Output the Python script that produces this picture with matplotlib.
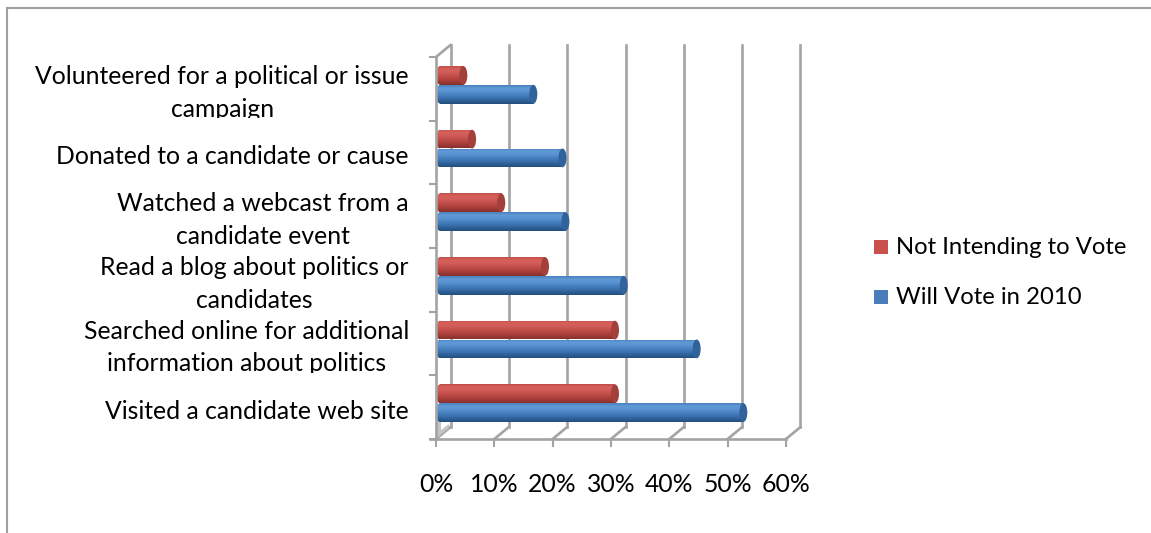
import numpy as np
import matplotlib
matplotlib.use("Agg")
import matplotlib.pyplot as plt
from matplotlib.patches import Rectangle, Ellipse, Polygon
from matplotlib.lines import Line2D
from matplotlib.colors import LinearSegmentedColormap

plt.rcParams['font.family'] = ['Lato', 'DejaVu Sans']

# data (bottom category first)
categories = ["Visited a candidate web site",
              "Searched online for additional\ninformation about politics",
              "Read a blog about politics or\ncandidates",
              "Watched a webcast from a\ncandidate event",
              "Donated to a candidate or cause",
              "Volunteered for a political or issue\ncampaign"]
will_vote = [52, 44, 31.5, 21.5, 21, 16]
not_voting = [30, 30, 18, 10.5, 5.5, 4]
series_names = ["Not Intending to Vote", "Will Vote in 2010"]
xticks = [0, 10, 20, 30, 40, 50, 60]

W, H = 1151, 533
fig = plt.figure(figsize=(W / 100, H / 100), dpi=100)
x0, x1, ytop, ybot = 436, 786, 57, 439
ax = fig.add_axes([x0 / W, 1 - ybot / H, (x1 - x0) / W, (ybot - ytop) / H])
ax.set_xlim(0, 60)
ax.set_ylim(0, 6)
ax.axis('off')

pxx = 60 / (x1 - x0)      # data units per pixel
pxy = 6 / (ybot - ytop)
DX, DY = 14.5 * pxx, 12 * pxy     # back wall offset
BX, BY = 4 * pxx, 4 * pxy         # bar depth offset
grid_c = '#a3a3a3'
fs = 17.8

# back wall gridlines and floor diagonals
for t in xticks:
    ax.plot([t + DX, t + DX], [DY, 6 + DY], color=grid_c, lw=1.9, clip_on=False, zorder=1)
    ax.plot([t, t + DX], [0, DY], color=grid_c, lw=1.9, clip_on=False, zorder=1)
    ax.plot([t, t], [0, -7 * pxy], color=grid_c, lw=1.5, clip_on=False, zorder=5)
    ax.text(t, -46 * pxy, f"{t}%", ha='center', va='center', fontsize=fs)

# front axis lines
ax.plot([-6 * pxx, 60], [0, 0], color=grid_c, lw=1.9, clip_on=False, zorder=5)
ax.plot([0, 0], [0, 6], color=grid_c, lw=1.9, clip_on=False, zorder=5)
ax.plot([0, DX], [6, 6 + DY], color=grid_c, lw=1.9, clip_on=False, zorder=5)
for k in range(7):
    ax.plot([-6 * pxx, 0], [k, k], color=grid_c, lw=1.5, clip_on=False, zorder=5)
ax.add_patch(Polygon([(1 * pxx, 1 * pxy), (1 * pxx, 34 * pxy), (5 * pxx, 34 * pxy),
                      (5 * pxx, 9 * pxy), (13 * pxx, 15 * pxy), (13 * pxx, 11 * pxy)],
                     closed=True, facecolor='#c4c4c4', edgecolor='none', zorder=2,
                     clip_on=False))

cm_blue = LinearSegmentedColormap.from_list('b', [(0, '#234d7c'), (0.3, '#3870ae'),
                                                 (0.7, '#5b95d3'), (0.85, '#5f99d6'),
                                                 (1, '#4a80bf')])
cm_red = LinearSegmentedColormap.from_list('r', [(0, '#86302c'), (0.3, '#b3433f'),
                                                (0.7, '#d45d58'), (0.85, '#d6615b'),
                                                (1, '#c04f4a')])
grad = np.linspace(0, 1, 64).reshape(-1, 1)

bh = 0.295
ypos = np.arange(len(categories)) + 0.5 + BY
capw = 8 * pxx


def cylinders(yc, vals, cmap, endc):
    bars = ax.barh(yc, vals, height=bh, left=BX, color='none', edgecolor='none', zorder=3)
    for p in bars:
        xa, ya, w, h = p.get_x(), p.get_y(), p.get_width(), p.get_height()
        back = Ellipse((xa, ya + h / 2), capw, h, facecolor='none', edgecolor='none')
        ax.add_patch(back)
        im = ax.imshow(grad, extent=[xa - capw, xa, ya, ya + h], origin='lower',
                       aspect='auto', cmap=cmap, zorder=3)
        im.set_clip_path(back)
        im = ax.imshow(grad, extent=[xa, xa + w, ya, ya + h], origin='lower',
                       aspect='auto', cmap=cmap, zorder=3)
        im.set_clip_path(p)
        ax.add_patch(Ellipse((xa + w, ya + h / 2), capw, h, facecolor=endc,
                             edgecolor='none', zorder=4))


cylinders(ypos - bh / 2, will_vote, cm_blue, '#30639c')
cylinders(ypos + bh / 2, not_voting, cm_red, '#a3403c')
ax.set_xlim(0, 60)
ax.set_ylim(0, 6)

# category labels
for i, lab in enumerate(categories):
    t = ax.text(-27 * pxx, i + 0.5 - 4 * pxy, lab, ha='right', va='center',
                multialignment='center', fontsize=fs, linespacing=1.5, clip_on=True)
    t.set_clip_path(Rectangle((-80, i + 0.04), 80, 3, transform=ax.transData))

# legend
for k, (name, col) in enumerate(zip(series_names, ['#c9504c', '#4a7ebb'])):
    yc = 247 + 50 * k
    fig.patches.append(Rectangle((874 / W, 1 - (yc + 7) / H), 14 / W, 14 / H,
                                 facecolor=col, edgecolor='none', transform=fig.transFigure))
    fig.text(896 / W, 1 - (yc + 1) / H, name, ha='left', va='center', fontsize=fs - 0.6)

# outer border
fig.add_artist(Line2D([7 / W, 1], [1 - 8 / H] * 2, color='#a0a0a0', lw=1.5,
                      transform=fig.transFigure))
fig.add_artist(Line2D([7 / W] * 2, [0, 1 - 8 / H], color='#a0a0a0', lw=1.5,
                      transform=fig.transFigure))

fig.savefig('out.png', dpi=100)
